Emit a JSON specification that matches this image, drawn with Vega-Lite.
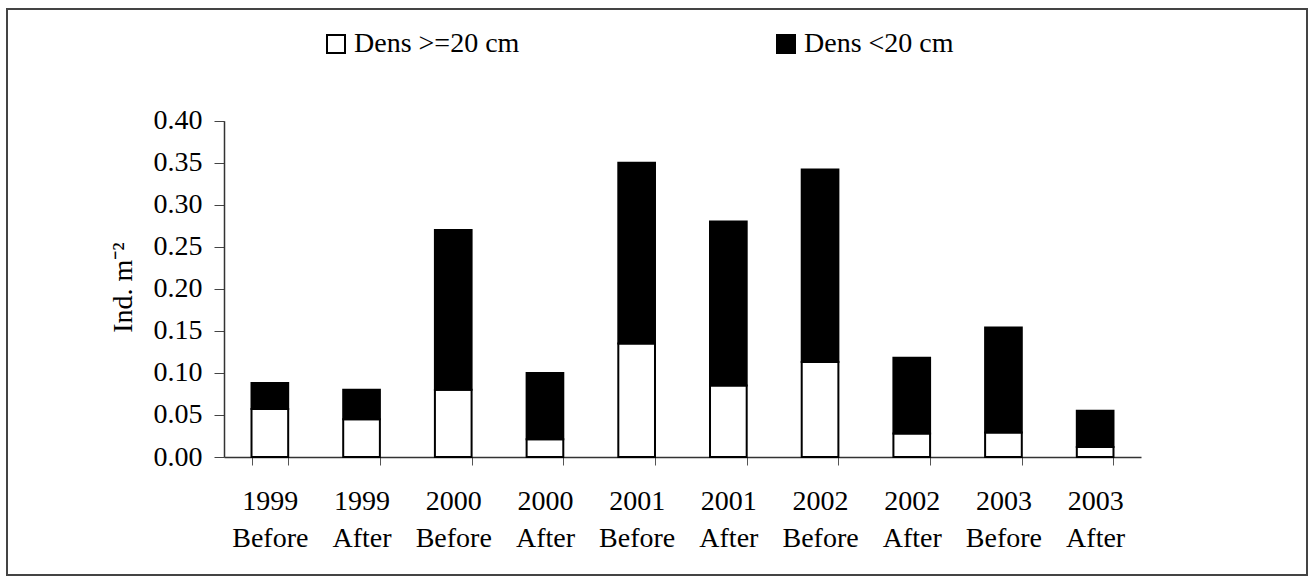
{
  "$schema": "https://vega.github.io/schema/vega-lite/v6.json",
  "width": 1300,
  "height": 566,
  "autosize": {"type": "none"},
  "padding": {"left": 7, "top": 9, "right": 2, "bottom": 1},
  "background": "white",
  "config": {"view": {"stroke": "#444", "strokeWidth": 2}},
  "data": {
    "values": [
      {"period": "1999 Before", "size": "Dens >=20 cm", "density": 0.057},
      {"period": "1999 Before", "size": "Dens <20 cm", "density": 0.031},
      {"period": "1999 After", "size": "Dens >=20 cm", "density": 0.045},
      {"period": "1999 After", "size": "Dens <20 cm", "density": 0.035},
      {"period": "2000 Before", "size": "Dens >=20 cm", "density": 0.080},
      {"period": "2000 Before", "size": "Dens <20 cm", "density": 0.190},
      {"period": "2000 After", "size": "Dens >=20 cm", "density": 0.021},
      {"period": "2000 After", "size": "Dens <20 cm", "density": 0.079},
      {"period": "2001 Before", "size": "Dens >=20 cm", "density": 0.135},
      {"period": "2001 Before", "size": "Dens <20 cm", "density": 0.215},
      {"period": "2001 After", "size": "Dens >=20 cm", "density": 0.085},
      {"period": "2001 After", "size": "Dens <20 cm", "density": 0.195},
      {"period": "2002 Before", "size": "Dens >=20 cm", "density": 0.113},
      {"period": "2002 Before", "size": "Dens <20 cm", "density": 0.229},
      {"period": "2002 After", "size": "Dens >=20 cm", "density": 0.028},
      {"period": "2002 After", "size": "Dens <20 cm", "density": 0.090},
      {"period": "2003 Before", "size": "Dens >=20 cm", "density": 0.029},
      {"period": "2003 Before", "size": "Dens <20 cm", "density": 0.125},
      {"period": "2003 After", "size": "Dens >=20 cm", "density": 0.012},
      {"period": "2003 After", "size": "Dens <20 cm", "density": 0.043}
    ]
  },
  "mark": {"type": "bar", "stroke": "black", "strokeWidth": 2},
  "encoding": {
    "x": {
      "field": "period",
      "type": "nominal",
      "sort": null,
      "scale": {"range": [217, 1134], "paddingInner": 0.6},
      "axis": {
        "title": null,
        "orient": "bottom",
        "offset": -118,
        "labelAngle": 0,
        "tickBand": "extent",
        "tickSize": 8,
        "labelPadding": 22,
        "labelExpr": "split(datum.label, ' ')",
        "labelLineHeight": 37,
        "labelOverlap": false,
        "labelFont": "Liberation Serif",
        "labelFontSize": 28,
        "labelColor": "black",
        "domainColor": "#333",
        "domainWidth": 1.5,
        "tickColor": "#555",
        "grid": false
      }
    },
    "y": {
      "field": "density",
      "type": "quantitative",
      "stack": "zero",
      "scale": {"domain": [0, 0.4], "range": [448, 111.7], "nice": false},
      "axis": {
        "title": "Ind. m⁻²",
        "values": [0, 0.05, 0.1, 0.15, 0.2, 0.25, 0.3, 0.35, 0.4],
        "format": ".2f",
        "offset": -217,
        "tickSize": 10,
        "labelPadding": 12,
        "labelFont": "Liberation Serif",
        "labelFontSize": 28,
        "labelColor": "black",
        "titleFont": "Liberation Serif",
        "titleFontSize": 28,
        "titleFontWeight": "normal",
        "titleColor": "black",
        "titleX": -93,
        "titleY": 278,
        "titleBaseline": "alphabetic",
        "titleAlign": "center",
        "grid": false,
        "domainColor": "#333",
        "domainWidth": 1.5,
        "tickColor": "#444"
      }
    },
    "color": {
      "field": "size",
      "type": "nominal",
      "scale": {"domain": ["Dens >=20 cm", "Dens <20 cm"], "range": ["white", "black"]},
      "legend": {
        "orient": "none",
        "legendX": 315,
        "legendY": 21,
        "direction": "horizontal",
        "title": null,
        "symbolType": "square",
        "symbolSize": 324,
        "symbolStrokeColor": "black",
        "symbolStrokeWidth": 2,
        "labelFont": "Liberation Serif",
        "labelFontSize": 28,
        "labelColor": "black",
        "labelOffset": 4,
        "columnPadding": 252,
        "padding": 0,
        "labelLimit": 400
      }
    },
    "order": {"field": "size", "sort": "descending"}
  }
}
